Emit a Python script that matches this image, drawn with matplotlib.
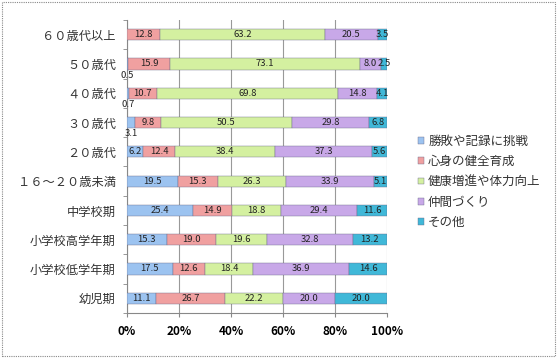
import matplotlib
matplotlib.use("Agg")
import matplotlib.pyplot as plt
from matplotlib.patches import Rectangle

plt.rcParams["font.family"] = ["Noto Sans CJK JP", "DejaVu Sans"]

categories = ["６０歳代以上", "５０歳代", "４０歳代", "３０歳代", "２０歳代",
              "１６～２０歳未満", "中学校期", "小学校高学年期", "小学校低学年期", "幼児期"]
series_names = ["勝敗や記録に挑戦", "心身の健全育成", "健康増進や体力向上", "仲間づくり", "その他"]
challenge = [0.0, 0.5, 0.7, 3.1, 6.2, 19.5, 25.4, 15.3, 17.5, 11.1]
mind_body = [12.8, 15.9, 10.7, 9.8, 12.4, 15.3, 14.9, 19.0, 12.6, 26.7]
health = [63.2, 73.1, 69.8, 50.5, 38.4, 26.3, 18.8, 19.6, 18.4, 22.2]
friends = [20.5, 8.0, 14.8, 29.8, 37.3, 33.9, 29.4, 32.8, 36.9, 20.0]
other = [3.5, 2.5, 4.1, 6.8, 5.6, 5.1, 11.6, 13.2, 14.6, 20.0]
series = [challenge, mind_body, health, friends, other]

COLORS = ["#9cc3f0", "#f0a0a0", "#d4f0a0", "#c8a8e8", "#40b8d8"]

fig = plt.figure(figsize=(5.57, 3.58), dpi=100)
ax = fig.add_axes([0.228, 0.126, 0.467, 0.818])

n = len(categories)
ypos = [n - 1 - i + 0.5 for i in range(n)]
left = [0.0] * n
for k, (name, vals, col) in enumerate(zip(series_names, series, COLORS)):
    ax.barh(ypos, vals, left=left, height=0.38, color=col,
            edgecolor="#6a6a8a", linewidth=0.3, label=name, zorder=3)
    for y, l, v in zip(ypos, left, vals):
        if v <= 0:
            continue
        if k == 0 and v < 4:
            # tiny first segments: label sits below the bar, as in the source
            ax.text(l + v / 2, y - 0.38, f"{v:.1f}", ha="center", va="center",
                    fontsize=6.8, color="#222222", zorder=4)
        else:
            ax.text(l + v / 2, y, f"{v:.1f}", ha="center", va="center",
                    fontsize=6.8, color="#222222", zorder=4)
    left = [a + b for a, b in zip(left, vals)]

ax.set_xlim(0, 100)
ax.set_ylim(0, n)
ax.set_xticks([0, 20, 40, 60, 80, 100])
ax.set_xticklabels(["0%", "20%", "40%", "60%", "80%", "100%"],
                   fontsize=8.5, fontweight="bold")
ax.set_yticks(ypos)
ax.set_yticklabels(categories, fontsize=8.8, color="#333333")
ax.set_yticks(range(n + 1), minor=True)
ax.tick_params(axis="y", which="major", length=0, pad=8)
ax.tick_params(axis="y", which="minor", length=3, color="#888888")
ax.tick_params(axis="x", length=3, color="#888888", pad=6)
ax.grid(True, axis="x", color="#999999", linewidth=0.8, zorder=0)
for s in ["top", "right"]:
    ax.spines[s].set_visible(False)
for s in ["left", "bottom"]:
    ax.spines[s].set_color("#888888")
    ax.spines[s].set_linewidth(0.8)

ax.legend(loc="center left", bbox_to_anchor=(1.1, 0.447), frameon=False,
          fontsize=9, handlelength=0.45, handleheight=0.45, handletextpad=0.35,
          labelspacing=0.58, labelcolor="#333333", borderaxespad=0)

fig.patches.append(Rectangle((0.003, 0.005), 0.994, 0.99, transform=fig.transFigure,
                             fill=False, edgecolor="#888888", linestyle=(0, (1, 1)),
                             linewidth=0.8))

fig.savefig("out.png", dpi=100, facecolor="white")
